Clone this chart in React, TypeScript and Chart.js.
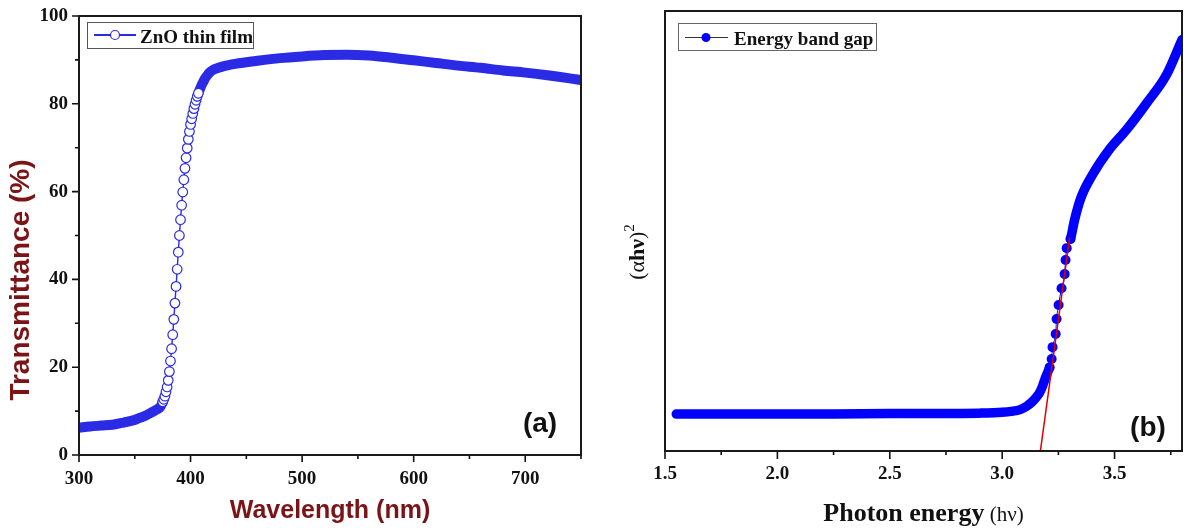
import { useEffect, useRef } from 'react';
import { Chart, registerables } from 'chart.js';

Chart.register(...registerables);

// ---- (a) transmittance spectrum of the ZnO thin film ----
const wavelengthNm = [
  300, 310, 320, 330, 340, 350, 355, 360, 365, 370,
  373, 374, 375, 376, 377, 378, 379, 380, 381, 382, 383, 384, 385, 386, 387, 388, 389, 390,
  391, 392, 393, 394, 395, 396, 397, 398, 399, 400, 401, 402, 403, 404, 405, 406, 407, 408,
  409, 410, 411,
  413, 415, 417, 420, 425, 430, 440,
  460, 480, 500, 520, 540, 560, 580, 600, 620, 640, 660, 680, 700, 720, 740, 750,
];
const transmittancePct = [
  6.2, 6.5, 6.7, 6.9, 7.4, 8.0, 8.5, 9.0, 9.7, 10.4,
  11.0, 11.5, 12.1, 12.7, 13.4, 14.4, 15.5, 17.0, 19.0, 21.4, 24.2, 27.4, 30.9, 34.6, 38.4, 42.3, 46.2, 50.0,
  53.6, 56.9, 59.9, 62.7, 65.3, 67.7, 69.9, 71.9, 73.7, 75.3, 76.6, 77.8, 78.9, 79.9, 80.8, 81.7, 82.4, 83.1,
  83.7, 84.3, 84.8,
  85.8, 86.5, 87.1, 87.7, 88.2, 88.6, 89.1,
  89.8, 90.4, 90.8, 91.1, 91.2, 91.0, 90.5, 89.9, 89.3, 88.7, 88.2, 87.6, 87.1, 86.5, 85.8, 85.4,
];

// ---- (b) Tauc plot: (αhν)² against photon energy ----
const photonEnergyEv = [
  1.55, 1.75, 2.0, 2.25, 2.5, 2.75, 2.9, 3.0,
  3.04, 3.08, 3.11, 3.13, 3.15, 3.167, 3.18, 3.19, 3.2, 3.211,
  3.22, 3.224, 3.238, 3.242, 3.251, 3.264, 3.278, 3.282, 3.287, 3.304,
  3.322, 3.35, 3.402, 3.478, 3.553, 3.642, 3.731, 3.8,
];
const alphaHvSquared = [
  8.4, 8.4, 8.4, 8.4, 8.5, 8.5, 8.6, 8.8,
  9.0, 9.4, 10.2, 11.0, 12.1, 13.3, 14.8, 16.3, 17.6, 19.0,
  20.9, 23.6, 26.6, 30.0, 33.2, 37.0, 40.2, 43.4, 46.1, 48.2,
  52.5, 57.5, 62.8, 68.6, 73.0, 79.0, 85.5, 93.5,
];
// straight-line fit of the absorption edge, extrapolated down to zero
const fitEnergyEv = [3.17, 3.3];
const fitAlphaHvSquared = [0, 48.5];

const SERIF = '"Liberation Serif", "Times New Roman", serif';
const SANS = '"Liberation Sans", Arial, sans-serif';
const TITLE_RED = '#7b1416';
const BLUE_A = '#2b2be6';
const BLUE_B = '#0000ff';
const INK = '#111';

// where the markers along the absorption edge stand apart from each other
const edgeA = (v: number) => v >= 12 && v <= 83;
const edgeB = (v: number) => v >= 18 && v <= 49;

const toXY = (xs: number[], ys: number[]) => xs.map((x, i) => ({ x, y: ys[i] }));

type Run = { text: string; font: string; dy?: number };
function drawRuns(ctx: CanvasRenderingContext2D, runs: Run[], cx: number, baseline: number) {
  const widths = runs.map((r) => {
    ctx.font = r.font;
    return ctx.measureText(r.text).width;
  });
  let x = cx - widths.reduce((s, w) => s + w, 0) / 2;
  ctx.textAlign = 'left';
  ctx.textBaseline = 'alphabetic';
  runs.forEach((r, i) => {
    ctx.font = r.font;
    ctx.fillText(r.text, x, baseline + (r.dy || 0));
    x += widths[i];
  });
}

function drawFrameAndTicks(chart: any, majorLen: number, minorLen: number, yTicks: boolean) {
  const ctx: CanvasRenderingContext2D = chart.ctx;
  const a = chart.chartArea;
  ctx.save();
  ctx.strokeStyle = INK;
  ctx.lineWidth = 1.6;
  ctx.beginPath();
  const xs = chart.scales.x;
  xs.ticks.forEach((t: any) => {
    const p = xs.getPixelForValue(t.value);
    ctx.moveTo(p, a.bottom);
    ctx.lineTo(p, a.bottom + (t.label ? majorLen : minorLen));
  });
  if (yTicks) {
    const ys = chart.scales.y;
    ys.ticks.forEach((t: any) => {
      const p = ys.getPixelForValue(t.value);
      ctx.moveTo(a.left, p);
      ctx.lineTo(a.left - (t.label ? majorLen : minorLen), p);
    });
  }
  ctx.stroke();
  ctx.lineWidth = 2;
  ctx.strokeStyle = '#1a1a1a';
  ctx.strokeRect(a.left, a.top, a.right - a.left, a.bottom - a.top);
  ctx.restore();
}

const panelAPlugin = {
  id: 'panelADecor',
  afterDraw(chart: any) {
    const ctx: CanvasRenderingContext2D = chart.ctx;
    const a = chart.chartArea;
    drawFrameAndTicks(chart, 7, 4, true);
    ctx.save();
    // legend
    ctx.strokeStyle = '#555';
    ctx.lineWidth = 1;
    ctx.strokeRect(87.5, 22.5, 166, 26);
    ctx.strokeStyle = BLUE_A;
    ctx.lineWidth = 2;
    ctx.beginPath();
    ctx.moveTo(94, 35);
    ctx.lineTo(136, 35);
    ctx.stroke();
    ctx.beginPath();
    ctx.arc(115, 35, 4.5, 0, Math.PI * 2);
    ctx.fillStyle = '#fff';
    ctx.fill();
    ctx.lineWidth = 1.2;
    ctx.stroke();
    ctx.fillStyle = INK;
    ctx.font = `bold 19px ${SERIF}`;
    ctx.textAlign = 'left';
    ctx.textBaseline = 'alphabetic';
    ctx.fillText('ZnO thin film', 140, 42.5);
    // panel tag
    ctx.font = `bold 28px ${SANS}`;
    ctx.textAlign = 'center';
    ctx.textBaseline = 'middle';
    ctx.fillText('(a)', 540, 424);
    // axis titles
    ctx.fillStyle = TITLE_RED;
    drawRuns(ctx, [{ text: 'Wavelength (nm)', font: `bold 25px ${SANS}` }], (a.left + a.right) / 2, 518);
    ctx.translate(29, 280);
    ctx.rotate(-Math.PI / 2);
    drawRuns(ctx, [{ text: 'Transmittance (%)', font: `bold 28px ${SANS}` }], 0, 0);
    ctx.restore();
  },
};

const panelBPlugin = {
  id: 'panelBDecor',
  afterDraw(chart: any) {
    const ctx: CanvasRenderingContext2D = chart.ctx;
    const a = chart.chartArea;
    drawFrameAndTicks(chart, 8, 4, false);
    ctx.save();
    // legend
    ctx.strokeStyle = '#666';
    ctx.lineWidth = 1;
    ctx.strokeRect(78.5, 23.5, 198, 27);
    ctx.strokeStyle = '#333';
    ctx.lineWidth = 1.2;
    ctx.beginPath();
    ctx.moveTo(85, 37.5);
    ctx.lineTo(128, 37.5);
    ctx.stroke();
    ctx.beginPath();
    ctx.arc(106, 37.5, 4.5, 0, Math.PI * 2);
    ctx.fillStyle = BLUE_B;
    ctx.fill();
    ctx.fillStyle = INK;
    ctx.font = `bold 19px ${SERIF}`;
    ctx.textAlign = 'left';
    ctx.textBaseline = 'alphabetic';
    ctx.fillText('Energy band gap', 134, 44.5);
    // panel tag
    ctx.font = `bold 28px ${SANS}`;
    ctx.textAlign = 'center';
    ctx.textBaseline = 'middle';
    ctx.fillText('(b)', 548, 428);
    // axis titles
    drawRuns(
      ctx,
      [
        { text: 'Photon energy', font: `bold 26px ${SERIF}` },
        { text: ' (hν)', font: `21px ${SERIF}` },
      ],
      (a.left + a.right) / 2,
      521,
    );
    ctx.translate(44, 252);
    ctx.rotate(-Math.PI / 2);
    drawRuns(
      ctx,
      [
        { text: '(α', font: `22px ${SERIF}` },
        { text: 'hν', font: `bold 22px ${SERIF}` },
        { text: ')', font: `22px ${SERIF}` },
        { text: '2', font: `15px ${SERIF}`, dy: -10 },
      ],
      0,
      0,
    );
    ctx.restore();
  },
};

const tickFont = { family: SERIF, size: 19, weight: 'bold' as const };

function configA(): any {
  return {
    type: 'line',
    data: {
      datasets: [
        {
          label: 'ZnO thin film',
          data: toXY(wavelengthNm, transmittancePct),
          borderColor: BLUE_A,
          borderWidth: 10,
          borderCapStyle: 'round',
          borderJoinStyle: 'round',
          cubicInterpolationMode: 'monotone',
          segment: {
            borderWidth: (c: any) =>
              edgeA(transmittancePct[c.p0DataIndex]) && edgeA(transmittancePct[c.p1DataIndex]) ? 1.4 : 10,
          },
          pointStyle: 'circle',
          pointRadius: (c: any) => (edgeA(transmittancePct[c.dataIndex]) ? 4.8 : 0),
          pointBackgroundColor: '#fff',
          pointBorderColor: BLUE_A,
          pointBorderWidth: 1.2,
          fill: false,
          clip: 0,
        },
      ],
    },
    options: {
      responsive: false,
      animation: false,
      events: [],
      layout: { padding: { top: 16, right: 19, left: 0, bottom: 0 } },
      plugins: { legend: { display: false }, tooltip: { enabled: false } },
      scales: {
        x: {
          type: 'linear',
          min: 300,
          max: 750,
          afterFit: (s: any) => {
            s.height = 76;
          },
          grid: { display: false, drawTicks: false },
          border: { display: false },
          ticks: {
            stepSize: 50,
            autoSkip: false,
            maxRotation: 0,
            padding: 13,
            color: INK,
            font: tickFont,
            callback: (v: number) => (v % 100 === 0 ? String(v) : ''),
          },
        },
        y: {
          type: 'linear',
          min: 0,
          max: 100,
          afterFit: (s: any) => {
            s.width = 79;
            s.paddingTop = 0;
            s.paddingBottom = 0;
          },
          grid: { display: false, drawTicks: false },
          border: { display: false },
          ticks: {
            stepSize: 10,
            autoSkip: false,
            padding: 11,
            color: INK,
            font: tickFont,
            callback: (v: number) => (v % 20 === 0 ? String(v) : ''),
          },
        },
      },
    },
    plugins: [panelAPlugin],
  };
}

function configB(): any {
  return {
    type: 'line',
    data: {
      datasets: [
        {
          label: 'fit',
          data: toXY(fitEnergyEv, fitAlphaHvSquared),
          borderColor: '#e00000',
          borderWidth: 1.5,
          pointRadius: 0,
          fill: false,
          clip: 0,
        },
        {
          label: 'Energy band gap',
          data: toXY(photonEnergyEv, alphaHvSquared),
          borderColor: BLUE_B,
          borderWidth: 9.5,
          borderCapStyle: 'round',
          borderJoinStyle: 'round',
          cubicInterpolationMode: 'monotone',
          segment: {
            borderWidth: (c: any) =>
              edgeB(alphaHvSquared[c.p0DataIndex]) && edgeB(alphaHvSquared[c.p1DataIndex]) ? 1 : 9.5,
          },
          pointStyle: 'circle',
          pointRadius: (c: any) => (edgeB(alphaHvSquared[c.dataIndex]) ? 5 : 0),
          pointBackgroundColor: BLUE_B,
          pointBorderWidth: 0,
          fill: false,
          clip: 0,
        },
      ],
    },
    options: {
      responsive: false,
      animation: false,
      events: [],
      layout: { padding: { top: 11, right: 2, left: 0, bottom: 0 } },
      plugins: { legend: { display: false }, tooltip: { enabled: false } },
      scales: {
        x: {
          type: 'linear',
          min: 1.5,
          max: 3.8,
          afterFit: (s: any) => {
            s.height = 80;
          },
          grid: { display: false, drawTicks: false },
          border: { display: false },
          ticks: {
            stepSize: 0.25,
            includeBounds: false,
            autoSkip: false,
            maxRotation: 0,
            padding: 12,
            color: INK,
            font: tickFont,
            callback: (v: number) => (Math.abs(v * 2 - Math.round(v * 2)) < 1e-6 ? v.toFixed(1) : ''),
          },
        },
        y: {
          type: 'linear',
          min: 0,
          max: 100,
          afterFit: (s: any) => {
            s.width = 65;
            s.paddingTop = 0;
            s.paddingBottom = 0;
          },
          grid: { display: false, drawTicks: false },
          border: { display: false },
          ticks: { display: false },
        },
      },
    },
    plugins: [panelBPlugin],
  };
}

export default function App() {
  const refA = useRef<HTMLCanvasElement>(null);
  const refB = useRef<HTMLCanvasElement>(null);

  useEffect(() => {
    const chartA = new Chart(refA.current as HTMLCanvasElement, configA());
    const chartB = new Chart(refB.current as HTMLCanvasElement, configB());
    return () => {
      chartA.destroy();
      chartB.destroy();
    };
  }, []);

  return (
    <div style={{ position: 'absolute', left: 0, top: 0, width: 1184, height: 531, background: '#fff' }}>
      <canvas
        ref={refA}
        width={600}
        height={531}
        style={{ position: 'absolute', left: 0, top: 0, width: 600, height: 531 }}
      />
      <canvas
        ref={refB}
        width={584}
        height={531}
        style={{ position: 'absolute', left: 600, top: 0, width: 584, height: 531 }}
      />
    </div>
  );
}
